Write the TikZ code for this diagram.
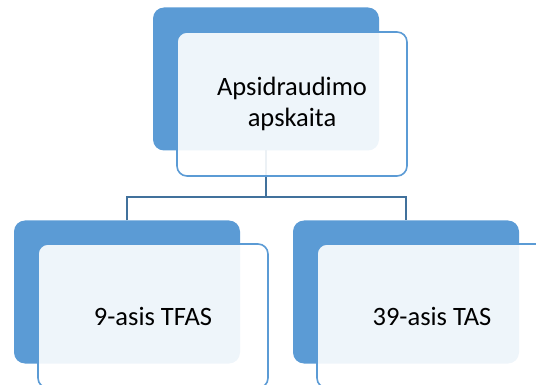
\documentclass[tikz,border=0pt]{standalone}
\usepackage{fontspec}
\setmainfont{Carlito}
\definecolor{accent}{HTML}{5B9BD5}
\definecolor{connblue}{HTML}{41719C}
\tikzset{
  backbox/.style={rectangle, rounded corners=11pt, fill=accent, draw=none,
    minimum width=226pt, minimum height=143pt, inner sep=0pt, outer sep=0pt},
  frontbox/.style={rectangle, rounded corners=10pt, fill=white, fill opacity=0.9,
    text opacity=1, draw=accent, line width=1.6pt, minimum width=230pt,
    minimum height=144pt, inner sep=0pt, outer sep=0pt, align=center,
    font=\fontsize{26.5pt}{31pt}\selectfont, text=black},
  conn/.style={draw=connblue, line width=2pt}
}
\begin{document}
\begin{tikzpicture}[x=1pt,y=-1pt]
\useasboundingbox (0,0) rectangle (536,385);
\clip (0,0) rectangle (536,385);
\coordinate (bus) at (0,197);
% back boxes
\node[backbox] (d0) at (266,79) {};
\node[backbox] (d1) at (127,292) {};
\node[backbox] (d2) at (406,292) {};
% connectors
\path[conn] (d0.south) -- (d0.south |- bus);
\path[conn] (d1.north) |- (d2.center |- bus) -- (d2.north);
% front boxes
\node[frontbox] (w0) at (292,104) {Apsidraudimo\\apskaita};
\node[frontbox] (w1) at (153,316) {9-asis TFAS};
\node[frontbox] (w2) at (432,316) {39-asis TAS};
\end{tikzpicture}
\end{document}
